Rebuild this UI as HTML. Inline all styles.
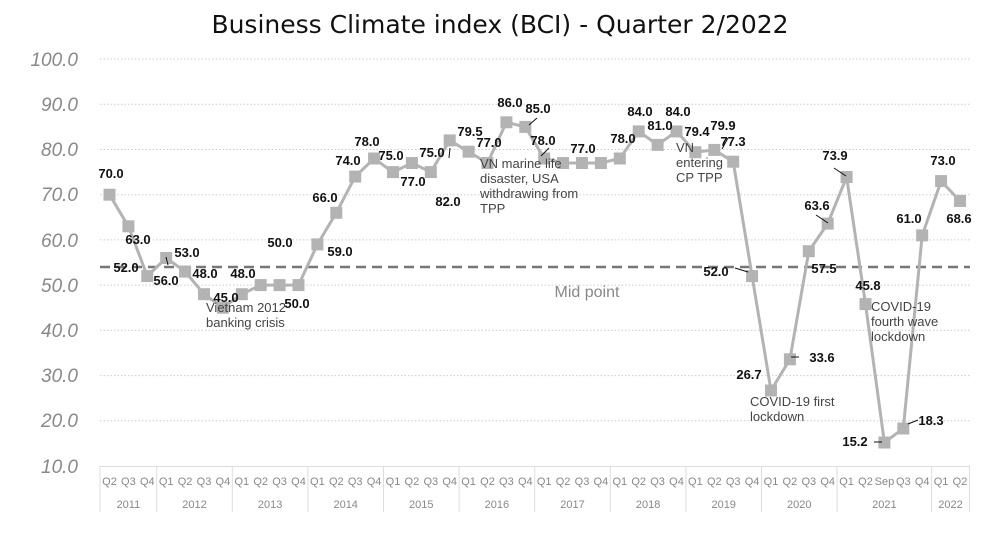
<!DOCTYPE html>
<html><head><meta charset="utf-8"><style>
body{margin:0;background:#fff}
svg{display:block;font-family:"Liberation Sans",sans-serif}
.l{font-weight:bold;font-size:13px;fill:#111;text-anchor:middle}
.a{font-size:13px;fill:#444}
.y{font-size:19px;fill:#888;font-style:italic;text-anchor:end}
.q{font-size:11px;fill:#888;text-anchor:middle}
</style></head><body>
<svg width="1000" height="543" viewBox="0 0 1000 543">
<text x="500" y="33" text-anchor="middle" font-size="25" fill="#111" font-family="DejaVu Sans, sans-serif">Business Climate index (BCI) - Quarter 2/2022</text>
<g stroke="#ccc" stroke-dasharray="1.5,2" stroke-width="1">
<line x1="100" x2="970" y1="59" y2="59"/><line x1="100" x2="970" y1="104.2" y2="104.2"/><line x1="100" x2="970" y1="149.5" y2="149.5"/><line x1="100" x2="970" y1="194.7" y2="194.7"/><line x1="100" x2="970" y1="239.9" y2="239.9"/><line x1="100" x2="970" y1="285.1" y2="285.1"/><line x1="100" x2="970" y1="330.3" y2="330.3"/><line x1="100" x2="970" y1="375.6" y2="375.6"/><line x1="100" x2="970" y1="420.8" y2="420.8"/>
</g>
<g class="y"><text x="78" y="66">100.0</text><text x="78" y="111">90.0</text><text x="78" y="156">80.0</text><text x="78" y="201">70.0</text><text x="78" y="247">60.0</text><text x="78" y="292">50.0</text><text x="78" y="337">40.0</text><text x="78" y="382">30.0</text><text x="78" y="427">20.0</text><text x="78" y="473">10.0</text></g>
<line x1="100" x2="970" y1="267" y2="267" stroke="#777" stroke-width="2.5" stroke-dasharray="10,6"/>
<text x="587" y="297" font-size="16" fill="#888" text-anchor="middle">Mid point</text>
<line x1="100" x2="970" y1="466.5" y2="466.5" stroke="#ddd"/>
<g stroke="#ddd">
<line x1="100" x2="100" y1="466" y2="512"/><line x1="156.7" x2="156.7" y1="466" y2="512"/><line x1="232.3" x2="232.3" y1="466" y2="512"/><line x1="307.9" x2="307.9" y1="466" y2="512"/><line x1="383.5" x2="383.5" y1="466" y2="512"/><line x1="459.1" x2="459.1" y1="466" y2="512"/><line x1="534.7" x2="534.7" y1="466" y2="512"/><line x1="610.3" x2="610.3" y1="466" y2="512"/><line x1="685.9" x2="685.9" y1="466" y2="512"/><line x1="761.5" x2="761.5" y1="466" y2="512"/><line x1="837.1" x2="837.1" y1="466" y2="512"/><line x1="931.6" x2="931.6" y1="466" y2="512"/><line x1="969.4" x2="969.4" y1="466" y2="512"/>
</g>
<g class="q">
<text x="109.5" y="485">Q2</text><text x="128.4" y="485">Q3</text><text x="147.3" y="485">Q4</text>
<text x="166.2" y="485">Q1</text><text x="185.1" y="485">Q2</text><text x="204" y="485">Q3</text><text x="222.9" y="485">Q4</text>
<text x="241.8" y="485">Q1</text><text x="260.7" y="485">Q2</text><text x="279.6" y="485">Q3</text><text x="298.5" y="485">Q4</text>
<text x="317.4" y="485">Q1</text><text x="336.3" y="485">Q2</text><text x="355.2" y="485">Q3</text><text x="374.1" y="485">Q4</text>
<text x="393" y="485">Q1</text><text x="411.9" y="485">Q2</text><text x="430.8" y="485">Q3</text><text x="449.7" y="485">Q4</text>
<text x="468.6" y="485">Q1</text><text x="487.5" y="485">Q2</text><text x="506.4" y="485">Q3</text><text x="525.3" y="485">Q4</text>
<text x="544.2" y="485">Q1</text><text x="563.1" y="485">Q2</text><text x="582" y="485">Q3</text><text x="600.9" y="485">Q4</text>
<text x="619.8" y="485">Q1</text><text x="638.7" y="485">Q2</text><text x="657.6" y="485">Q3</text><text x="676.5" y="485">Q4</text>
<text x="695.4" y="485">Q1</text><text x="714.3" y="485">Q2</text><text x="733.2" y="485">Q3</text><text x="752.1" y="485">Q4</text>
<text x="771" y="485">Q1</text><text x="789.9" y="485">Q2</text><text x="808.8" y="485">Q3</text><text x="827.7" y="485">Q4</text>
<text x="846.6" y="485">Q1</text><text x="865.5" y="485">Q2</text><text x="884.4" y="485">Sep</text><text x="903.3" y="485">Q3</text><text x="922.2" y="485">Q4</text>
<text x="941.1" y="485">Q1</text><text x="960" y="485">Q2</text>
<text x="128.4" y="508">2011</text><text x="194.5" y="508">2012</text><text x="270.1" y="508">2013</text><text x="345.7" y="508">2014</text><text x="421.3" y="508">2015</text><text x="496.9" y="508">2016</text><text x="572.5" y="508">2017</text><text x="648.1" y="508">2018</text><text x="723.7" y="508">2019</text><text x="799.3" y="508">2020</text><text x="884.4" y="508">2021</text><text x="950.5" y="508">2022</text>
</g>
<polyline fill="none" stroke="#b3b3b3" stroke-width="3" points="109.5,194.7 128.4,226.3 147.3,276.1 166.2,258 185.1,271.6 204,294.2 222.9,307.7 241.8,294.2 260.7,285.1 279.6,285.1 298.5,285.1 317.4,244.4 336.3,212.8 355.2,176.6 374.1,158.5 393,172.1 411.9,163 430.8,172.1 449.7,140.4 468.6,151.7 487.5,163 506.4,122.3 525.3,126.9 544.2,158.5 563.1,163 582,163 600.9,163 619.8,158.5 638.7,131.4 657.6,144.9 676.5,131.4 695.4,152.2 714.3,149.9 733.2,161.7 752.1,276.1 771,390.5 789.9,359.3 808.8,251.2 827.7,223.6 846.6,177 865.5,304.1 884.4,442.5 903.3,428.5 922.2,235.4 941.1,181.1 960,201"/>
<g fill="#b3b3b3">
<rect x="103.5" y="188.7" width="12" height="12"/><rect x="122.4" y="220.3" width="12" height="12"/><rect x="141.3" y="270.1" width="12" height="12"/><rect x="160.2" y="252" width="12" height="12"/><rect x="179.1" y="265.6" width="12" height="12"/><rect x="198" y="288.2" width="12" height="12"/><rect x="216.9" y="301.7" width="12" height="12"/><rect x="235.8" y="288.2" width="12" height="12"/><rect x="254.7" y="279.1" width="12" height="12"/><rect x="273.6" y="279.1" width="12" height="12"/><rect x="292.5" y="279.1" width="12" height="12"/><rect x="311.4" y="238.4" width="12" height="12"/><rect x="330.3" y="206.8" width="12" height="12"/><rect x="349.2" y="170.6" width="12" height="12"/><rect x="368.1" y="152.5" width="12" height="12"/><rect x="387" y="166.1" width="12" height="12"/><rect x="405.9" y="157" width="12" height="12"/><rect x="424.8" y="166.1" width="12" height="12"/><rect x="443.7" y="134.4" width="12" height="12"/><rect x="462.6" y="145.7" width="12" height="12"/><rect x="481.5" y="157" width="12" height="12"/><rect x="500.4" y="116.3" width="12" height="12"/><rect x="519.3" y="120.9" width="12" height="12"/><rect x="538.2" y="152.5" width="12" height="12"/><rect x="557.1" y="157" width="12" height="12"/><rect x="576" y="157" width="12" height="12"/><rect x="594.9" y="157" width="12" height="12"/><rect x="613.8" y="152.5" width="12" height="12"/><rect x="632.7" y="125.4" width="12" height="12"/><rect x="651.6" y="138.9" width="12" height="12"/><rect x="670.5" y="125.4" width="12" height="12"/><rect x="689.4" y="146.2" width="12" height="12"/><rect x="708.3" y="143.9" width="12" height="12"/><rect x="727.2" y="155.7" width="12" height="12"/><rect x="746.1" y="270.1" width="12" height="12"/><rect x="765" y="384.5" width="12" height="12"/><rect x="783.9" y="353.3" width="12" height="12"/><rect x="802.8" y="245.2" width="12" height="12"/><rect x="821.7" y="217.6" width="12" height="12"/><rect x="840.6" y="171" width="12" height="12"/><rect x="859.5" y="298.1" width="12" height="12"/><rect x="878.4" y="436.5" width="12" height="12"/><rect x="897.3" y="422.5" width="12" height="12"/><rect x="916.2" y="229.4" width="12" height="12"/><rect x="935.1" y="175.1" width="12" height="12"/><rect x="954" y="195" width="12" height="12"/>
</g>
<g stroke="#111" stroke-width="1">
<line x1="735" y1="268" x2="748" y2="272"/><line x1="791" y1="357" x2="799" y2="357"/><line x1="874" y1="442" x2="882" y2="442"/><line x1="908" y1="424" x2="918" y2="420"/><line x1="722" y1="149" x2="728" y2="138"/><line x1="529" y1="125" x2="537" y2="118"/><line x1="541" y1="156" x2="549" y2="148"/><line x1="450" y1="148" x2="449" y2="158"/><line x1="166" y1="257" x2="168" y2="265"/>
<line x1="834" y1="168" x2="846" y2="176"/><line x1="816" y1="215" x2="828" y2="223"/>
</g>
<g class="l">
<text x="111" y="178">70.0</text><text x="138" y="244">63.0</text><text x="126" y="272">52.0</text><text x="166" y="285">56.0</text><text x="187" y="257">53.0</text><text x="205" y="278">48.0</text><text x="226" y="302">45.0</text><text x="243" y="278">48.0</text><text x="280" y="247">50.0</text><text x="297" y="308">50.0</text><text x="340" y="256">59.0</text><text x="325" y="202">66.0</text><text x="348" y="165">74.0</text><text x="367" y="146">78.0</text><text x="391" y="160">75.0</text><text x="413" y="186">77.0</text><text x="432" y="157">75.0</text><text x="448" y="206">82.0</text><text x="470" y="136">79.5</text><text x="489" y="147">77.0</text><text x="510" y="107">86.0</text><text x="538" y="113">85.0</text><text x="543" y="145">78.0</text><text x="583" y="153">77.0</text><text x="623" y="143">78.0</text><text x="640" y="116">84.0</text><text x="660" y="130">81.0</text><text x="678" y="116">84.0</text><text x="697" y="136">79.4</text><text x="723" y="130">79.9</text><text x="733" y="146">77.3</text><text x="716" y="276">52.0</text><text x="749" y="379">26.7</text><text x="822" y="362">33.6</text><text x="824" y="273">57.5</text><text x="817" y="210">63.6</text><text x="835" y="160">73.9</text><text x="868" y="290">45.8</text><text x="855" y="446">15.2</text><text x="931" y="425">18.3</text><text x="909" y="223">61.0</text><text x="943" y="165">73.0</text><text x="959" y="223">68.6</text>
</g>
<g class="a">
<text x="206" y="312">Vietnam 2012</text><text x="206" y="327">banking crisis</text>
<text x="480" y="168">VN marine life</text><text x="480" y="183">disaster, USA</text><text x="480" y="198">withdrawing from</text><text x="480" y="213">TPP</text>
<text x="676" y="152">VN</text><text x="676" y="167">entering</text><text x="676" y="182">CP TPP</text>
<text x="750" y="406">COVID-19 first</text><text x="750" y="421">lockdown</text>
<text x="871" y="311">COVID-19</text><text x="871" y="326">fourth wave</text><text x="871" y="341">lockdown</text>
</g>
</svg>
</body></html>
